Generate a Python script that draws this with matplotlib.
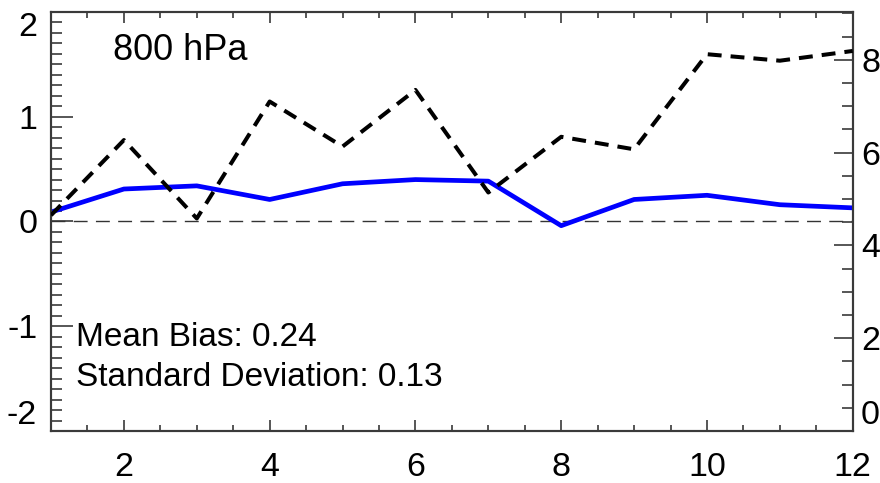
import matplotlib
matplotlib.use("Agg")
import matplotlib.pyplot as plt
from matplotlib.ticker import MultipleLocator, FixedLocator

plt.rcParams['font.family'] = ['Liberation Sans', 'DejaVu Sans']
plt.rcParams['lines.scale_dashes'] = False

# Monthly values at 800 hPa
months = list(range(1, 13))
bias = [0.09, 0.31, 0.34, 0.21, 0.36, 0.40, 0.385, -0.04, 0.21, 0.25, 0.16, 0.13]
spread = [4.65, 6.27, 4.58, 7.10, 6.13, 7.35, 5.14, 6.34, 6.07, 8.12, 7.98, 8.19]

level_label = "800 hPa"
mean_bias_label = "Mean Bias: 0.24"
std_label = "Standard Deviation: 0.13"

xticks = [2, 4, 6, 8, 10, 12]
left_ticks = [-2, -1, 0, 1, 2]
right_ticks = [0, 2, 4, 6, 8]

axis_color = "#3a3a3a"
H = 483

fig = plt.figure(figsize=(8.8, 4.83), dpi=100)
ax = fig.add_axes([0.058, 0.1077, 0.911, 0.8675])
ax2 = ax.twinx()

# zero reference
ax.plot([1, 12], [0, 0], color="#333333", lw=1.0, dashes=(10, 6), zorder=2)
# bias (left axis)
ax.plot(months, bias, color="#0000ff", lw=3.4, solid_joinstyle="round", zorder=3)
# spread (right axis)
ax2.plot(months, spread, color="black", lw=2.9, dashes=(10, 6.5), zorder=3)

ax.set_xlim(1, 12)
ax.set_ylim(-2, 2)
ax2.set_ylim(0, 9.03)

ax.xaxis.set_major_locator(FixedLocator(xticks))
ax.xaxis.set_minor_locator(MultipleLocator(0.5))
ax.yaxis.set_major_locator(FixedLocator(left_ticks))
ax.yaxis.set_minor_locator(MultipleLocator(0.1))
ax2.yaxis.set_major_locator(FixedLocator(right_ticks))
ax2.yaxis.set_minor_locator(MultipleLocator(0.5))

ax.tick_params(axis='x', which='major', direction='in', length=8, width=1.2,
               color=axis_color, top=True, labelsize=24.5, pad=15)
ax.tick_params(axis='x', which='minor', direction='in', length=4, width=1.2,
               color=axis_color, top=True)
ax.tick_params(axis='y', which='major', direction='in', length=16, width=1.2,
               color=axis_color, right=False, labelsize=24.5, pad=10)
ax.tick_params(axis='y', which='minor', direction='in', length=8, width=1.2,
               color=axis_color, right=False)
ax2.tick_params(axis='y', which='major', direction='in', length=14, width=1.2,
                color=axis_color, labelsize=24.5, pad=6)
ax2.tick_params(axis='y', which='minor', direction='in', length=8, width=1.2,
                color=axis_color)

for a in (ax, ax2):
    for s in a.spines.values():
        s.set_color(axis_color)
        s.set_linewidth(1.5)

ax.set_yticklabels([str(v) for v in left_ticks])
ax2.set_yticklabels([str(v) for v in right_ticks])

# end labels sit inside the axis range
lt = ax.yaxis.get_major_ticks()
lt[0].label1.set_va('bottom')
lt[-1].label1.set_va('top')
rt = ax2.yaxis.get_major_ticks()
rt[0].label2.set_va('bottom')

ax.text(113, H - 50, level_label, transform=None, fontsize=26, va='center', ha='left')
ax.text(76, H - 338, mean_bias_label, transform=None, fontsize=24, va='center', ha='left')
ax.text(76, H - 377, std_label, transform=None, fontsize=24, va='center', ha='left')

fig.savefig("out.png", dpi=100)
